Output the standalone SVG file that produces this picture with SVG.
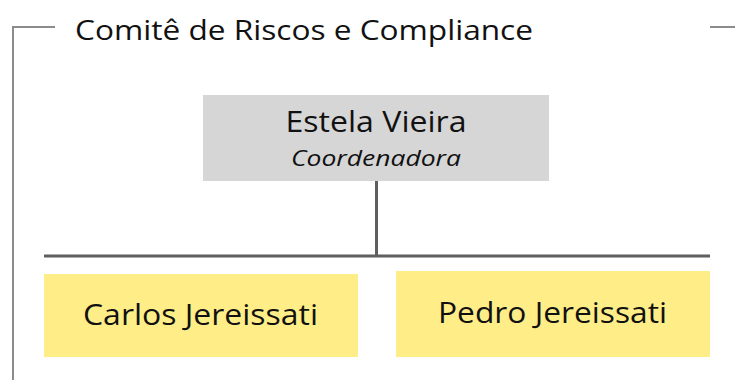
<svg xmlns="http://www.w3.org/2000/svg" width="735" height="380" viewBox="0 0 735 380">
<style>
text{font-family:"Open Sans","Liberation Sans",sans-serif;fill:#111}
.frame{stroke:#8c8c8c;stroke-width:2;fill:none}
.conn{stroke:#5f5f5f;stroke-width:3;fill:none}
.gray{fill:#d6d6d6}
.yel{fill:#ffed88}
</style>
<rect width="735" height="380" fill="#fff"/>
<g id="frame">
<path class="frame" d="M13 380 V27 H55"/>
<path class="frame" d="M710 27 H735"/>
<text x="75" y="40" font-size="28" textLength="458" lengthAdjust="spacingAndGlyphs">Comitê de Riscos e Compliance</text>
</g>
<g id="connectors">
<path class="conn" d="M376.5 181 V256"/>
<path class="conn" d="M44 256 H710"/>
</g>
<g id="node-estela">
<rect class="gray" x="203" y="95" width="346" height="86"/>
<text x="376" y="132" font-size="29" text-anchor="middle" textLength="181" lengthAdjust="spacingAndGlyphs">Estela Vieira</text>
<text x="376" y="166" font-size="21" font-style="italic" text-anchor="middle" textLength="170" lengthAdjust="spacingAndGlyphs">Coordenadora</text>
</g>
<g id="node-carlos">
<rect class="yel" x="44" y="274" width="314" height="83"/>
<text x="200.5" y="325" font-size="30" text-anchor="middle" textLength="235" lengthAdjust="spacingAndGlyphs">Carlos Jereissati</text>
</g>
<g id="node-pedro">
<rect class="yel" x="396" y="271" width="314" height="86"/>
<text x="552.5" y="323" font-size="30" text-anchor="middle" textLength="229" lengthAdjust="spacingAndGlyphs">Pedro Jereissati</text>
</g>
</svg>
